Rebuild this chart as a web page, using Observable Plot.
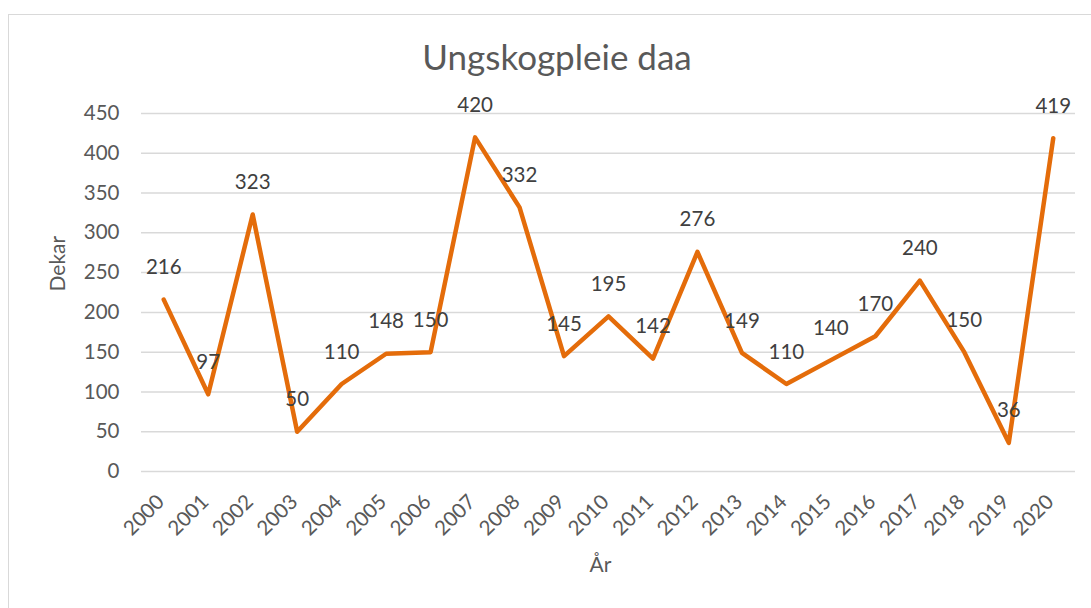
<!DOCTYPE html>
<html>
<head>
<meta charset="utf-8">
<script src="https://cdn.jsdelivr.net/npm/d3@7"></script>
<script src="https://cdn.jsdelivr.net/npm/@observablehq/plot@0.6"></script>
<style>
  html, body { margin: 0; padding: 0; background: #fff; }
  #wrap { position: relative; width: 1091px; height: 608px; overflow: hidden; font-family: Lato, "Open Sans", sans-serif; }
  #frame { position: absolute; left: 8px; top: 14px; width: 1100px; height: 620px; border: 1.5px solid #d9d9d9; box-sizing: border-box; }
  #title { position: absolute; left: 0; width: 1114px; top: 35px; text-align: center; font-size: 35px; color: #595959; }
  #chart { position: absolute; left: 0; top: 0; }
</style>
</head>
<body>
<div id="wrap">
  <div id="frame"></div>
  <div id="chart"></div>
  <div id="title">Ungskogpleie daa</div>
</div>
<script>
const years = ["2000","2001","2002","2003","2004","2005","2006","2007","2008","2009","2010","2011","2012","2013","2014","2015","2016","2017","2018","2019","2020"];
const values = [216,97,323,50,110,148,150,420,332,145,195,142,276,149,110,140,170,240,150,36,419];
const yTicks = [0,50,100,150,200,250,300,350,400,450];
const titleText = "Ungskogpleie daa";
const yLabel = "Dekar";
const xLabel = "År";

document.getElementById("title").textContent = titleText;
const data = years.map((y, i) => ({year: y, value: values[i]}));

const chart = Plot.plot({
  width: 1091,
  height: 608,
  marginLeft: 141,
  marginRight: 16,
  marginTop: 113,
  marginBottom: 137,
  style: {fontFamily: "Lato, 'Open Sans', sans-serif", background: "transparent", overflow: "visible"},
  x: {type: "band", domain: years, padding: 0, round: false},
  y: {domain: [0, 450]},
  marks: [
    Plot.gridY(yTicks, {stroke: "#d9d9d9", strokeOpacity: 1, strokeWidth: 1.5}),
    Plot.axisY({ticks: yTicks, tickSize: 0, tickPadding: 22, fontSize: 20.5, color: "#595959", label: null}),
    Plot.axisX({tickSize: 0, tickPadding: 27, dx: -3, tickRotate: -45, fontSize: 20.5, color: "#595959", label: null}),
    Plot.line(data, {x: "year", y: "value", stroke: "#E46C0A", strokeWidth: 4.5, strokeLinejoin: "round", strokeLinecap: "round"}),
    Plot.text(data, {x: "year", y: "value", text: d => String(d.value), dy: -32, fontSize: 20.5, fill: "#404040"}),
    Plot.text([yLabel], {frameAnchor: "left", dx: -83, dy: -1, rotate: -90, fontSize: 21, fill: "#595959", text: d => d}),
    Plot.text([xLabel], {frameAnchor: "bottom", dy: 100, dx: -8, fontSize: 21, fill: "#595959", text: d => d})
  ]
});
document.getElementById("chart").appendChild(chart);
</script>
</body>
</html>
